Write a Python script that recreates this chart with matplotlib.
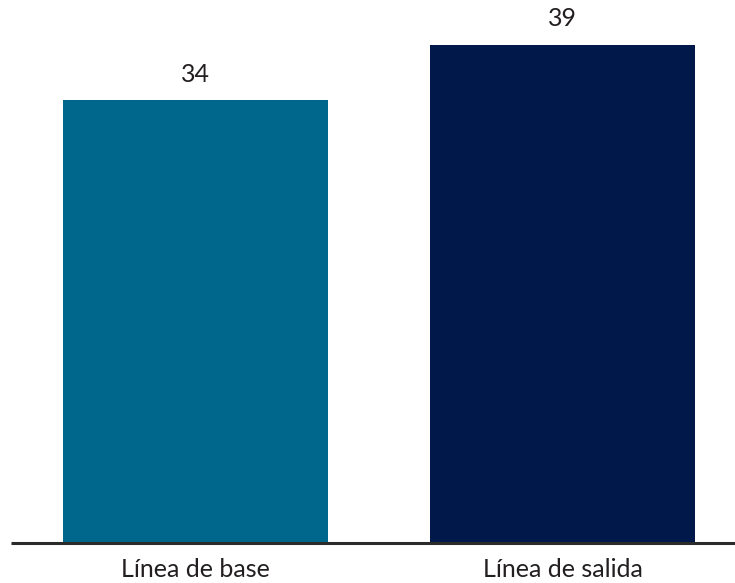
import matplotlib
matplotlib.use("Agg")
import matplotlib.pyplot as plt

categories = ["Línea de base", "Línea de salida"]
values = [34.3, 38.6]
value_labels = ["34", "39"]
colors = ["#00678C", "#00194A"]

plt.rcParams['font.family'] = ['Lato', 'DejaVu Sans']
text_color = "#231F20"

fig = plt.figure(figsize=(7.35, 5.83), dpi=100)
ax = fig.add_axes([11/735, 40/583, 724/735, 543/583])

x = list(range(len(categories)))
bars = ax.bar(x, values, width=0.722, color=colors, zorder=2)

for b, lab in zip(bars, value_labels):
    ax.annotate(lab, (b.get_x() + b.get_width()/2, b.get_height()),
                xytext=(0, 10.5), textcoords="offset points",
                ha="center", va="bottom", fontsize=18, color=text_color)

ax.set_xlim(-0.5027, 1.470)
ax.set_ylim(0, 42.09)
ax.set_xticks(x)
ax.set_xticklabels(categories, fontsize=18, color=text_color)
ax.tick_params(axis="x", length=0, pad=11)
ax.set_yticks([])
for s in ["top", "left", "right"]:
    ax.spines[s].set_visible(False)
ax.spines["bottom"].set_linewidth(2.2)
ax.spines["bottom"].set_color("#2b2b2b")
ax.spines["bottom"].set_zorder(3)
ax.spines["bottom"].set_capstyle("butt")

fig.savefig("out.png", dpi=100)
